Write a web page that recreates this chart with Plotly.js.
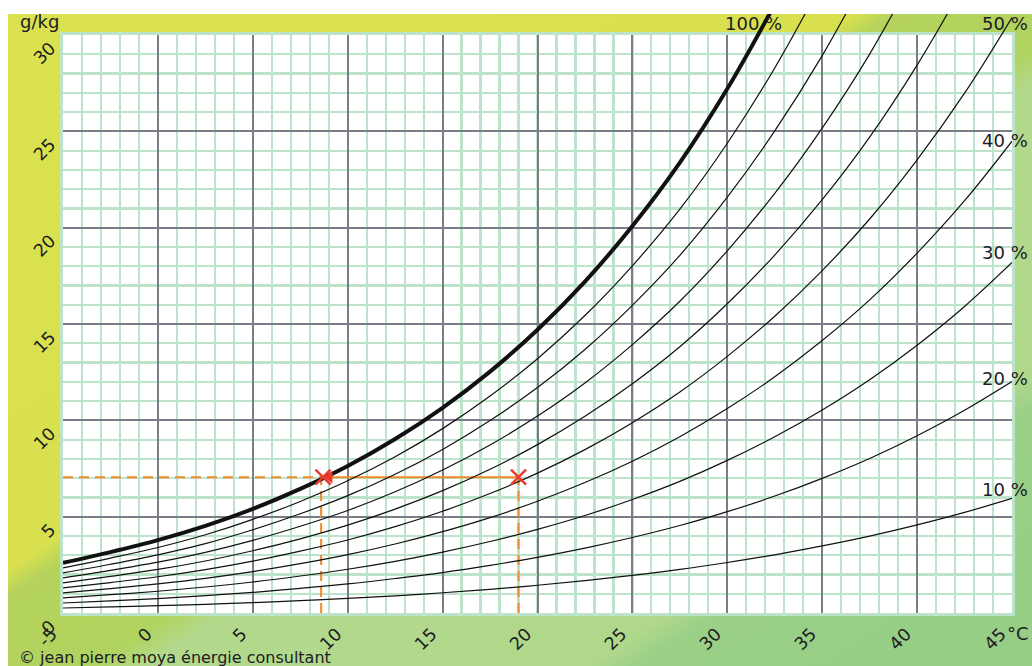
<!DOCTYPE html>
<html><head><meta charset="utf-8">
<script src="https://cdn.plot.ly/plotly-3.0.1.min.js"></script>
<style>
html,body{margin:0;padding:0;background:#fff;}
#wrap{position:relative;width:1032px;height:666px;overflow:hidden;}
#bg{position:absolute;left:8px;top:14px;width:1024px;height:652px;
background:linear-gradient(146.7deg,#dbe24f 0%,#d8e04f 42%,#b5d35c 44%,#b1d360 53.5%,#b3d98c 56%,#b0d88a 78%,#9ad088 80.5%,#96ce86 100%);}
#chart{position:absolute;left:0;top:0;width:1032px;height:666px;}
</style></head>
<body><div id="wrap"><div id="bg"></div><div id="chart"></div></div>
<script>
// Temperatures (°C) at which curve values were read
const temps = [-5,-2.5,0,2.5,5,7.5,10,12.5,15,17.5,20,22.5,25,27.5,30,32.5,35,37.5,40,42.5,45];
// Absolute humidity (g/kg) per relative humidity curve
const rh10  = [0.26,0.32,0.38,0.45,0.54,0.64,0.76,0.89,1.05,1.23,1.44,1.68,1.95,2.26,2.62,3.02,3.48,3.99,4.57,5.22,5.95];
const rh20  = [0.52,0.63,0.75,0.90,1.07,1.28,1.51,1.79,2.10,2.47,2.89,3.37,3.92,4.54,5.26,6.07,6.99,8.02,9.20,10.52,12.01];
const rh30  = [0.78,0.95,1.13,1.35,1.61,1.92,2.27,2.68,3.16,3.71,4.34,5.06,5.89,6.83,7.92,9.15,10.54,12.11,13.90,15.91,18.19];
const rh40  = [1.04,1.26,1.51,1.80,2.15,2.56,3.03,3.58,4.22,4.95,5.80,6.77,7.88,9.15,10.61,12.26,14.14,16.25,18.68,21.40,24.49];
const rh50  = [1.30,1.58,1.88,2.25,2.69,3.21,3.79,4.48,5.28,6.20,7.26,8.48,9.88,11.47,13.32,15.40,17.77,20.45,23.52,26.98,30.91];
const rh60  = [1.56,1.90,2.26,2.70,3.23,3.85,4.56,5.39,6.35,7.46,8.74,10.21,11.90,13.82,16.05,18.58,21.45,24.70,28.44,32.66];
const rh70  = [1.82,2.21,2.64,3.15,3.77,4.50,5.32,6.29,7.42,8.72,10.22,11.94,13.93,16.18,18.80,21.78,25.17,29.01,33.44];
const rh80  = [2.08,2.53,3.02,3.60,4.32,5.15,6.09,7.20,8.49,9.99,11.70,13.68,15.97,18.56,21.58,25.02,28.93,33.38];
const rh90  = [2.34,2.85,3.40,4.06,4.86,5.79,6.86,8.11,9.57,11.26,13.20,15.44,18.02,20.96,24.38,28.29,32.74];
const rh100 = [2.60,3.16,3.78,4.52,5.40,6.44,7.63,9.03,10.65,12.53,14.70,17.20,20.09,23.38,27.21,31.59];
const curves = [rh10,rh20,rh30,rh40,rh50,rh60,rh70,rh80,rh90,rh100];
const curveLabels = ['10 %','20 %','30 %','40 %','50 %','100 %'];
// Example: air at 19 °C / 50 % cooled to its dew point
const exampleT = [8.6, 19.0];
const exampleW = 7.05;
const xTickVals = [-5,0,5,10,15,20,25,30,35,40,45];
const yTickVals = [0,5,10,15,20,25,30];

const traces = [];
// anchor trace so that the gridded x/y subplot is built
traces.push({x:[-5,45], y:[0,30], xaxis:'x', yaxis:'y', mode:'markers', marker:{opacity:0, size:1}, hoverinfo:'skip'});
const orange = '#f08a2a';
traces.push({x:[-5, exampleT[0]], y:[exampleW, exampleW], xaxis:'x2', yaxis:'y2', mode:'lines', line:{color:orange, width:2, dash:'10px,6px'}, hoverinfo:'skip'});
traces.push({x:[exampleT[0], exampleT[0]], y:[0, exampleW], xaxis:'x2', yaxis:'y2', mode:'lines', line:{color:orange, width:2, dash:'10px,6px'}, hoverinfo:'skip'});
traces.push({x:[exampleT[1], exampleT[1]], y:[0, exampleW], xaxis:'x2', yaxis:'y2', mode:'lines', line:{color:orange, width:2, dash:'10px,6px'}, hoverinfo:'skip'});
traces.push({x:[exampleT[0], exampleT[1]], y:[exampleW, exampleW], xaxis:'x2', yaxis:'y2', mode:'lines', line:{color:orange, width:2}, hoverinfo:'skip'});
curves.forEach((c,i)=>{
  traces.push({x:temps.slice(0,c.length), y:c, xaxis:'x2', yaxis:'y2', mode:'lines',
    line:{color:'#111', width: i===9 ? 4 : 1.2, shape:'spline', smoothing:1}, hoverinfo:'skip'});
});
traces.push({x:[exampleT[0]+0.45], y:[exampleW], xaxis:'x2', yaxis:'y2', mode:'markers',
  marker:{symbol:'triangle-left', size:11, color:'#ee3a2c'}, hoverinfo:'skip'});
traces.push({x:[exampleT[0]+0.1, exampleT[1]], y:[exampleW, exampleW], xaxis:'x2', yaxis:'y2', mode:'markers',
  marker:{symbol:'x-thin', size:15, line:{color:'#ee3a2c', width:2.5}}, hoverinfo:'skip'});

const green = '#bde4cb';
const dark = '#7c7c88';
const pad = 578/599;
const tf = {family:'DejaVu Sans, Verdana, sans-serif', size:17.5, color:'#1c1c24'};
function px(x){return (x-63)/949;}
function py(y){return (613-y)/599;}
const ann = [];
ann.push({text:'g/kg', xref:'paper', yref:'paper', x:px(39), y:py(22), xanchor:'center', yanchor:'middle', showarrow:false, font:{...tf, size:18}});
ann.push({text:'100 %', xref:'paper', yref:'paper', x:px(784), y:py(23), xanchor:'right', yanchor:'middle', showarrow:false, font:{...tf, size:18}});
const labY = [490, 378, 253, 140, 23];
labY.forEach((yy,i)=>{
  ann.push({text:curveLabels[i], xref:'paper', yref:'paper', x:px(1030), y:py(yy), xanchor:'right', yanchor:'middle', showarrow:false, font:{...tf, size:18}});
});
ann.push({text:'°C', xref:'paper', yref:'paper', x:px(1018), y:py(633), xanchor:'center', yanchor:'middle', showarrow:false, font:{...tf, size:18}});
ann.push({text:'© jean pierre moya énergie consultant', xref:'paper', yref:'paper', x:px(17), y:py(657), xanchor:'left', yanchor:'middle', showarrow:false, font:{...tf, size:16}});

const layout = {
  width:1032, height:666,
  margin:{l:63, r:20, t:14, b:53, pad:0},
  paper_bgcolor:'rgba(0,0,0,0)',
  plot_bgcolor:'rgba(0,0,0,0)',
  showlegend:false,
  font:tf,
  xaxis:{range:[-5,45], domain:[0,1], anchor:'y', tickmode:'array', tickvals:xTickVals, ticktext:xTickVals.map(String),
    tickangle:-45, tickfont:tf, ticklabelshift:-11, ticklabelstandoff:1, showgrid:true, gridcolor:dark, gridwidth:2,
    minor:{dtick:1, tick0:0, showgrid:true, gridcolor:green, gridwidth:2.2},
    zeroline:false, showline:true, linecolor:green, linewidth:3, mirror:true, ticks:'', fixedrange:true},
  yaxis:{range:[0,30], domain:[0,pad], anchor:'x', tickmode:'array', tickvals:yTickVals, ticktext:yTickVals.map(String),
    tickangle:-45, tickfont:tf, ticklabelshift:11, ticklabelstandoff:6, showgrid:true, gridcolor:dark, gridwidth:2,
    minor:{dtick:1, tick0:0, showgrid:true, gridcolor:green, gridwidth:2.2},
    zeroline:false, showline:true, linecolor:green, linewidth:3, mirror:true, ticks:'', fixedrange:true},
  xaxis2:{range:[-5,45], domain:[0,1], anchor:'y2', visible:false, fixedrange:true},
  yaxis2:{range:[0,30/pad], domain:[0,1], anchor:'x2', visible:false, fixedrange:true},
  shapes:[{type:'rect', xref:'x domain', yref:'y domain', x0:0, x1:1, y0:0, y1:1, fillcolor:'#ffffff', line:{width:0}, layer:'below'}],
  annotations:ann
};
Plotly.newPlot('chart', traces, layout, {displayModeBar:false, staticPlot:true});
</script></body></html>
